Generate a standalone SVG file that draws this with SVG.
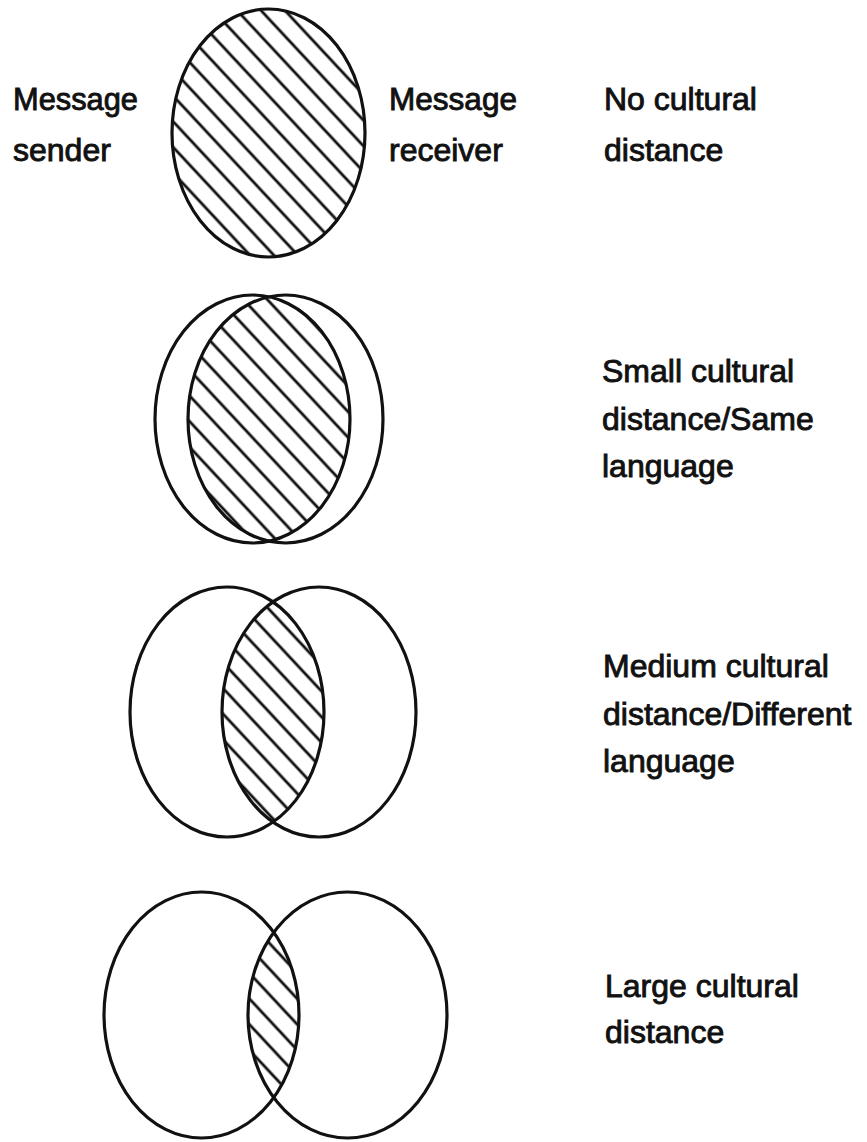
<svg xmlns="http://www.w3.org/2000/svg" width="867" height="1142" viewBox="0 0 867 1142">
<style>
.o{fill:none;stroke:#111;stroke-width:3.2}
.h{fill:url(#hatch);stroke:none}
text{font-family:"Liberation Sans",Arial,Helvetica,sans-serif;font-size:32px;fill:#111;stroke:#111;stroke-width:0.9}
</style>
<defs>
<pattern id="hatch" patternUnits="userSpaceOnUse" width="17.5" height="17.5" patternTransform="rotate(-43)">
<line x1="8.75" y1="-2" x2="8.75" y2="19.5" stroke="#111" stroke-width="2.8"/>
</pattern>
<clipPath id="c2"><ellipse cx="252.5" cy="419" rx="97.5" ry="124"/></clipPath>
<clipPath id="c3"><ellipse cx="227" cy="712" rx="97" ry="125"/></clipPath>
<clipPath id="c4"><ellipse cx="201.5" cy="1015" rx="97.5" ry="123"/></clipPath>
</defs>
<rect width="867" height="1142" fill="#fff"/>

<g id="row1">
<ellipse class="h" cx="268.5" cy="133" rx="96.5" ry="124"/>
<ellipse class="o" cx="268.5" cy="133" rx="96.5" ry="124"/>
<text x="13" y="110" textLength="125" lengthAdjust="spacingAndGlyphs">Message</text>
<text x="13" y="161">sender</text>
<text x="389" y="110" textLength="128" lengthAdjust="spacingAndGlyphs">Message</text>
<text x="389" y="161">receiver</text>
<text x="604" y="110">No cultural</text>
<text x="604" y="161">distance</text>
</g>

<g id="row2">
<ellipse class="h" cx="285.5" cy="419" rx="97.5" ry="124" clip-path="url(#c2)"/>
<ellipse class="o" cx="252.5" cy="419" rx="97.5" ry="124"/>
<ellipse class="o" cx="285.5" cy="419" rx="97.5" ry="124"/>
<text x="602" y="382">Small cultural</text>
<text x="602" y="430">distance/Same</text>
<text x="602" y="477">language</text>
</g>

<g id="row3">
<ellipse class="h" cx="319" cy="712" rx="97" ry="125" clip-path="url(#c3)"/>
<ellipse class="o" cx="227" cy="712" rx="97" ry="125"/>
<ellipse class="o" cx="319" cy="712" rx="97" ry="125"/>
<text x="603" y="677">Medium cultural</text>
<text x="603" y="725">distance/Different</text>
<text x="603" y="772">language</text>
</g>

<g id="row4">
<ellipse class="h" cx="347.5" cy="1015" rx="99.5" ry="123" clip-path="url(#c4)"/>
<ellipse class="o" cx="201.5" cy="1015" rx="97.5" ry="123"/>
<ellipse class="o" cx="347.5" cy="1015" rx="99.5" ry="123"/>
<text x="605" y="997">Large cultural</text>
<text x="605" y="1043">distance</text>
</g>
</svg>
